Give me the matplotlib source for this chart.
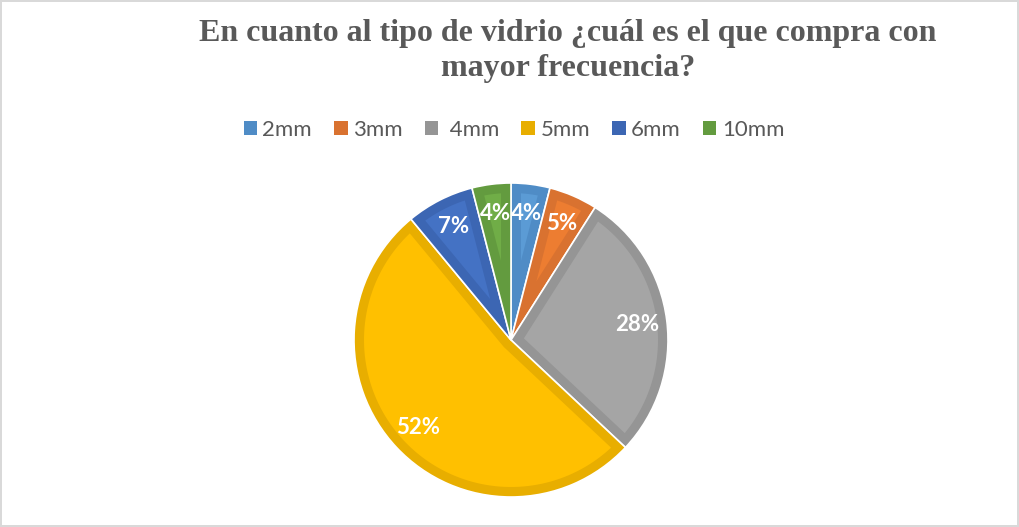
import numpy as np
import matplotlib
matplotlib.use('Agg')
import matplotlib.pyplot as plt
from matplotlib.patches import Patch, Polygon

# datos del grafico
categorias = ['2mm', '3mm', ' 4mm', '5mm', '6mm', '10mm']
valores = [4, 5, 28, 52, 7, 4]
color_borde = ['#4F8CC6', '#D97230', '#959595', '#E8AE00', '#3C66B3', '#639B3F']
color_relleno = ['#5B9BD5', '#ED7D31', '#A5A5A5', '#FFC000', '#4472C4', '#70AD47']
titulo = 'En cuanto al tipo de vidrio ¿cuál es el que compra con\nmayor frecuencia?'

W, H = 1019, 527
fig = plt.figure(figsize=(W / 100, H / 100), dpi=100)
fig.patch.set_edgecolor('#D9D9D9')
fig.patch.set_linewidth(1.5)

# pie centrado en (511, 340) px, radio ~157 px
cx, cy, R = 511, 340, 157
half = 162
ax = fig.add_axes([(cx - half) / W, (H - cy - half) / H, 2 * half / W, 2 * half / H])
lim = half / R

wedges, textos, pct = ax.pie(
    valores, colors=color_borde, startangle=90, counterclock=False,
    autopct=lambda p: f'{p:.0f}%', pctdistance=0.81,
    wedgeprops=dict(edgecolor='white', linewidth=1.2),
    textprops=dict(color='white', fontsize=16, fontweight='bold', family='Lato'),
    frame=False)
ax.set_xlim(-lim, lim)
ax.set_ylim(-lim, lim)
ax.set_aspect('equal')
ax.axis('off')

# relleno interior mas claro (efecto bisel)
d = 10 / R
rho = 1 - d
for w, col in zip(wedges, color_relleno):
    t1, t2 = np.radians(w.theta1), np.radians(w.theta2)
    a = (t2 - t1) / 2
    m = (t1 + t2) / 2
    s = d / np.sin(a)
    if s >= rho:
        continue
    P = s * np.array([np.cos(m), np.sin(m)])
    angs = []
    for t in (t1, t2):
        u = np.array([np.cos(t), np.sin(t)])
        pu = P @ u
        k = -pu + np.sqrt(pu ** 2 - P @ P + rho ** 2)
        q = P + k * u
        angs.append(np.arctan2(q[1], q[0]))
    p1, p2 = angs
    if p2 < p1:
        p2 += 2 * np.pi
    arc = np.linspace(p1, p2, 100)
    pts = [P] + [rho * np.array([np.cos(x), np.sin(x)]) for x in arc]
    ax.add_patch(Polygon(pts, closed=True, facecolor=col, edgecolor='none', zorder=1.5))

for t in pct:
    t.set_zorder(3)

fig.text(568 / W, 1 - 51 / H, titulo, ha='center', va='center',
         fontsize=23, fontweight='bold', family='Liberation Serif',
         color='#595959', linespacing=1.3)

handles = [Patch(facecolor=c, edgecolor='none') for c in color_borde]
fig.legend(handles, categorias, loc='center', bbox_to_anchor=(514 / W, 1 - 130 / H),
           ncol=6, frameon=False, handlelength=0.6, handleheight=0.6,
           handletextpad=0.25, columnspacing=1.0,
           prop=dict(family='Lato', size=16), labelcolor='#595959')

fig.savefig('out.png', dpi=100)
